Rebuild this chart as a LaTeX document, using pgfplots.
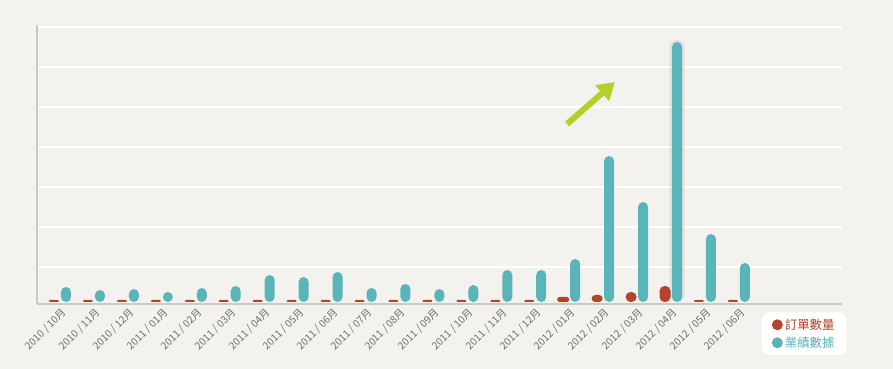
\documentclass[border=0pt]{standalone}
\usepackage{pgfplots}
\pgfplotsset{compat=1.18}
\usepackage{fontspec}
\setmainfont{Noto Sans CJK TC}
\usetikzlibrary{arrows.meta}
\definecolor{bgc}{HTML}{F3F2EE}
\definecolor{tealc}{HTML}{5AB5B8}
\definecolor{redc}{HTML}{B4432A}
\definecolor{greenc}{HTML}{B5CF2A}
\definecolor{labc}{HTML}{6E6E6E}
\definecolor{axc}{HTML}{C9C9C7}
\begin{document}
\begin{tikzpicture}
\fill[bgc, use as bounding box] (0,0) rectangle (893bp,369bp);
\begin{axis}[
  at={(37bp,65bp)}, anchor=south west,
  scale only axis, width=805bp, height=279bp,
  xmin=-0.854, xmax=22.86, ymin=-2, ymax=277,
  axis x line=bottom, axis y line=left,
  axis line style={axc, line width=1.2bp, -},
  xtick={0,...,20},
  xticklabels={{2010 / 10月},{2010 / 11月},{2010 / 12月},{2011 / 01月},{2011 / 02月},{2011 / 03月},{2011 / 04月},{2011 / 05月},{2011 / 06月},{2011 / 07月},{2011 / 08月},{2011 / 09月},{2011 / 10月},{2011 / 11月},{2011 / 12月},{2012 / 01月},{2012 / 02月},{2012 / 03月},{2012 / 04月},{2012 / 05月},{2012 / 06月}},
  x tick label style={xshift=-5bp, yshift=-1bp, rotate=45, anchor=north east, font=\fontsize{10.2}{12}\selectfont, text=labc, inner sep=1.5bp},
  major tick length=0pt,
  ytick={35,75,115,155,195,235,275},
  yticklabels={},
  ymajorgrids, grid style={white, line width=1.3bp},
  legend style={at={(1.006,-0.029)}, anchor=north east, fill=white, draw=none, rounded corners=8bp,
    font=\fontsize{12.5}{14}\selectfont, inner xsep=10bp, inner ysep=4.5bp, row sep=2bp},
  legend cell align=left,
  clip=false,
]
% shadow of peak bar
\addplot[ybar, bar width=15bp, bar shift=0bp, fill=black!25, draw=none, opacity=0.35, rounded corners=7.5bp, forget plot]
  coordinates {(18,262)};
% orders: small values
\addplot[ybar, bar width=10bp, bar shift=-12bp, fill=redc, draw=none, rounded corners=1bp,
  legend image code/.code={\fill[redc] (3bp,0bp) circle (5.5bp);}]
  coordinates {(0,2)(1,2)(2,2)(3,2)(4,2)(5,2)(6,2)(7,2)(8,2)(9,2)(10,2)
  (11,2)(12,2)(13,2)(14,2)(19,2)(20,2)};
\addlegendentry{\textcolor{redc}{訂單數量}}
\addplot[ybar, bar width=12bp, bar shift=-12bp, fill=redc, draw=none, rounded corners=2.5bp, forget plot]
  coordinates {(15,5)};
\addplot[ybar, bar width=11bp, bar shift=-12bp, fill=redc, draw=none, rounded corners=3.5bp, forget plot]
  coordinates {(16,7)};
\addplot[ybar, bar width=11bp, bar shift=-12bp, fill=redc, draw=none, rounded corners=5bp, forget plot]
  coordinates {(17,10)(18,16)};
\addplot[ybar, bar width=10bp, bar shift=0bp, fill=tealc, draw=none, rounded corners=5bp,
  legend image code/.code={\fill[tealc] (3bp,0bp) circle (5.5bp);}]
  coordinates {(0,15)(1,12)(2,13)(3,10)(4,14)(5,16)(6,27)(7,25)(8,30)(9,14)(10,18)
  (11,13)(12,17)(13,32)(14,32)(15,43)(16,146)(17,100)(18,260)(19,68)(20,39)};
\addlegendentry{\textcolor{tealc}{業績數據}}
\draw[greenc, line width=6bp, -{Triangle[width=20bp,length=17bp]}] (axis cs:14.76,178) -- (axis cs:16.17,220);
\end{axis}
\end{tikzpicture}
\end{document}
